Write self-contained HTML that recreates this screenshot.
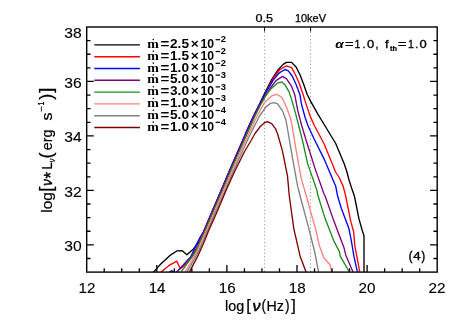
<!DOCTYPE html>
<html><head><meta charset="utf-8"><title>SED</title>
<style>html,body{margin:0;padding:0;background:#fff;}svg{display:block;will-change:transform;filter:blur(0.35px);}text{font-family:"Liberation Sans",sans-serif;fill:#000;}</style>
</head><body>
<svg width="463" height="327" viewBox="0 0 463 327">
<rect x="0" y="0" width="463" height="327" fill="#ffffff"/>
<defs><clipPath id="c"><rect x="86.70" y="27.00" width="350.50" height="245.10"/></clipPath></defs>
<line x1="264.60" y1="32.00" x2="264.60" y2="272.10" stroke="#000" stroke-width="0.85" stroke-dasharray="1.0 2.56" stroke-opacity="0.55"/>
<line x1="264.60" y1="27.00" x2="264.60" y2="31.50" stroke="#000" stroke-width="1.0"/>
<line x1="310.60" y1="32.00" x2="310.60" y2="272.10" stroke="#000" stroke-width="0.85" stroke-dasharray="1.0 2.56" stroke-opacity="0.55"/>
<line x1="310.60" y1="27.00" x2="310.60" y2="31.50" stroke="#000" stroke-width="1.0"/>
<g clip-path="url(#c)" fill="none" stroke-width="1.35" stroke-linejoin="round" stroke-linecap="butt">
<path d="M153.4,272.1 L161.0,263.8 L170.0,255.4 L177.2,250.8 L182.0,250.6 L186.9,254.7 L193.4,248.9 L199.2,241.5 L203.5,232.0 L212.0,212.0 L220.6,192.0 L229.0,172.0 L237.7,152.0 L242.6,141.0 L247.0,130.5 L253.6,116.0 L259.3,104.5 L265.0,92.5 L271.0,80.7 L277.5,70.5 L283.2,64.4 L286.4,62.4 L291.6,62.4 L296.1,67.0 L300.0,74.7 L303.9,85.1 L307.1,94.2 L310.7,101.4 L317.7,113.9 L325.1,126.0 L335.7,143.5 L344.3,164.0 L346.8,171.5 L349.0,180.0 L352.8,191.6 L354.4,196.0 L358.9,218.6 L362.1,230.0 L364.0,235.8 L364.0,272.1" stroke="#000000"/>
<path d="M161.0,272.1 L168.7,265.7 L176.8,261.2 L180.4,268.7 L186.9,263.2 L192.7,256.0 L197.2,248.3 L201.0,238.5 L203.6,232.0 L212.1,212.0 L220.7,192.0 L229.1,172.0 L237.8,152.0 L242.7,141.0 L247.1,130.5 L253.7,116.0 L259.6,104.5 L265.5,93.0 L273.4,78.0 L279.9,69.5 L286.4,65.9 L291.6,67.6 L295.5,74.7 L299.4,83.8 L303.2,94.8 L305.2,101.4 L310.2,116.4 L314.6,126.0 L323.9,143.5 L333.6,167.0 L335.2,171.5 L339.2,177.5 L343.2,186.4 L345.7,196.0 L350.7,221.1 L353.7,232.0 L354.8,245.6 L359.6,271.2 L359.8,272.1" stroke="#ff0000"/>
<path d="M169.4,272.1 L172.0,270.7 L173.9,272.1" stroke="#0000ff"/>
<path d="M176.7,272.1 L190.6,257.0 L193.2,251.6 L196.4,244.6 L200.2,237.0 L203.4,232.0 L211.9,212.0 L220.5,192.0 L228.9,172.0 L237.6,152.0 L242.5,141.0 L246.9,130.5 L253.5,116.0 L259.8,104.0 L267.0,90.3 L273.4,79.9 L279.3,72.8 L285.1,69.5 L288.3,70.8 L292.2,76.0 L296.1,84.5 L300.0,94.8 L301.4,103.9 L305.2,117.7 L308.1,126.0 L313.9,138.5 L323.9,158.6 L335.7,186.2 L337.6,196.0 L341.4,208.5 L348.9,228.6 L351.4,241.1 L353.9,256.2 L357.2,271.2 L357.4,272.1" stroke="#0000ff"/>
<path d="M176.5,272.1 L191.4,256.6 L197.9,245.5 L201.3,236.5 L203.7,232.0 L212.2,212.0 L220.9,192.0 L229.4,172.0 L238.2,152.0 L243.1,141.0 L247.6,130.5 L254.2,116.0 L260.6,104.0 L269.6,89.0 L276.0,80.6 L282.5,76.4 L286.4,78.6 L291.6,86.4 L294.8,94.8 L297.7,110.2 L301.8,126.0 L307.1,143.5 L315.1,168.6 L323.9,193.7 L325.1,196.0 L333.9,221.1 L343.9,247.4 L345.7,254.9 L352.7,271.2 L353.0,272.1" stroke="#800080"/>
<path d="M181.0,272.1 L194.0,254.0 L199.5,243.0 L204.6,232.0 L213.2,212.0 L221.8,192.0 L230.3,172.0 L239.1,152.0 L243.9,141.0 L248.6,130.5 L255.1,116.0 L260.5,105.0 L266.3,94.8 L270.8,89.0 L277.3,83.2 L281.9,81.9 L285.1,85.1 L289.0,91.6 L291.4,98.9 L295.7,113.9 L298.8,126.0 L302.6,141.0 L307.6,163.6 L316.4,188.7 L318.1,196.0 L325.1,218.6 L333.9,241.1 L339.4,251.6 L340.2,256.2 L348.9,271.2 L349.4,272.1" stroke="#228b22"/>
<path d="M185.0,272.1 L195.5,254.5 L201.0,243.0 L205.8,232.0 L214.5,212.0 L223.0,192.0 L231.6,172.0 L240.5,152.0 L245.4,141.0 L250.3,130.5 L257.2,116.0 L264.6,102.4 L271.7,95.9 L276.9,94.3 L282.1,97.8 L286.6,107.5 L290.5,117.9 L292.1,126.0 L296.3,151.1 L301.3,178.6 L306.3,196.0 L313.3,221.1 L316.2,231.0 L319.3,245.6 L324.0,258.0 L330.2,265.0 L331.5,271.2 L331.7,272.1" stroke="#ff8080"/>
<path d="M187.0,272.1 L196.7,255.0 L202.3,243.0 L207.0,232.0 L215.7,212.0 L224.5,192.0 L233.0,172.0 L242.2,152.0 L247.1,141.0 L252.2,130.5 L259.3,116.5 L265.9,106.9 L270.5,103.4 L273.7,102.6 L277.6,103.9 L282.8,111.4 L286.0,120.5 L287.0,126.0 L292.6,158.6 L297.6,186.2 L300.1,196.0 L308.2,226.1 L314.6,251.5 L318.4,271.2 L318.6,272.1" stroke="#808080"/>
<path d="M189.4,272.1 L197.9,255.9 L203.7,243.0 L208.1,232.0 L217.0,212.0 L226.2,190.0 L234.4,172.0 L244.3,152.0 L250.8,141.0 L255.0,133.5 L260.0,126.8 L264.2,122.9 L267.5,121.6 L271.7,123.7 L275.6,128.9 L277.5,133.5 L282.5,151.1 L287.5,176.1 L289.3,196.0 L293.8,228.6 L300.1,256.2 L305.8,271.2 L306.2,272.1" stroke="#800000"/>
</g>
<rect x="86.70" y="27.00" width="350.50" height="245.10" fill="none" stroke="#000" stroke-width="1.4"/>
<path d="M104.22,272.10 v-3.80 M121.75,272.10 v-3.80 M139.28,272.10 v-3.80 M156.80,272.10 v-7.10 M174.32,272.10 v-3.80 M191.85,272.10 v-3.80 M209.38,272.10 v-3.80 M226.90,272.10 v-7.10 M244.43,272.10 v-3.80 M261.95,272.10 v-3.80 M279.48,272.10 v-3.80 M297.00,272.10 v-7.10 M314.52,272.10 v-3.80 M332.05,272.10 v-3.80 M349.57,272.10 v-3.80 M367.10,272.10 v-7.10 M384.62,272.10 v-3.80 M402.15,272.10 v-3.80 M419.68,272.10 v-3.80 M86.70,258.48 h3.80 M437.20,258.48 h-3.80 M86.70,244.87 h7.10 M437.20,244.87 h-7.10 M86.70,231.25 h3.80 M437.20,231.25 h-3.80 M86.70,217.63 h3.80 M437.20,217.63 h-3.80 M86.70,204.02 h3.80 M437.20,204.02 h-3.80 M86.70,190.40 h7.10 M437.20,190.40 h-7.10 M86.70,176.78 h3.80 M437.20,176.78 h-3.80 M86.70,163.17 h3.80 M437.20,163.17 h-3.80 M86.70,149.55 h3.80 M437.20,149.55 h-3.80 M86.70,135.93 h7.10 M437.20,135.93 h-7.10 M86.70,122.32 h3.80 M437.20,122.32 h-3.80 M86.70,108.70 h3.80 M437.20,108.70 h-3.80 M86.70,95.08 h3.80 M437.20,95.08 h-3.80 M86.70,81.47 h7.10 M437.20,81.47 h-7.10 M86.70,67.85 h3.80 M437.20,67.85 h-3.80 M86.70,54.23 h3.80 M437.20,54.23 h-3.80 M86.70,40.62 h3.80 M437.20,40.62 h-3.80" stroke="#000" stroke-width="1.3" fill="none"/>
<text x="87.00" y="293.2" text-anchor="middle" font-size="15.2" stroke="#000" stroke-width="0.12">12</text>
<text x="157.10" y="293.2" text-anchor="middle" font-size="15.2" stroke="#000" stroke-width="0.12">14</text>
<text x="227.20" y="293.2" text-anchor="middle" font-size="15.2" stroke="#000" stroke-width="0.12">16</text>
<text x="297.30" y="293.2" text-anchor="middle" font-size="15.2" stroke="#000" stroke-width="0.12">18</text>
<text x="358.40" y="293.2" textLength="17.0" lengthAdjust="spacingAndGlyphs" font-size="15.2" stroke="#000" stroke-width="0.12">20</text>
<text x="428.50" y="293.2" textLength="17.0" lengthAdjust="spacingAndGlyphs" font-size="15.2" stroke="#000" stroke-width="0.12">22</text>
<text x="64.3" y="251.07" textLength="17.4" lengthAdjust="spacingAndGlyphs" font-size="15.2" stroke="#000" stroke-width="0.12">30</text>
<text x="64.3" y="196.60" textLength="17.4" lengthAdjust="spacingAndGlyphs" font-size="15.2" stroke="#000" stroke-width="0.12">32</text>
<text x="64.3" y="142.13" textLength="17.4" lengthAdjust="spacingAndGlyphs" font-size="15.2" stroke="#000" stroke-width="0.12">34</text>
<text x="64.3" y="87.67" textLength="17.4" lengthAdjust="spacingAndGlyphs" font-size="15.2" stroke="#000" stroke-width="0.12">36</text>
<text x="64.3" y="37.5" textLength="17.4" lengthAdjust="spacingAndGlyphs" font-size="15.2" stroke="#000" stroke-width="0.12">38</text>
<text x="255.4" y="22" font-size="10.4" textLength="17.6" lengthAdjust="spacingAndGlyphs" stroke="#000" stroke-width="0.25">0.5</text>
<text x="294.9" y="22" font-size="10.4" textLength="31.1" lengthAdjust="spacingAndGlyphs" stroke="#000" stroke-width="0.25">10keV</text>
<g font-size="10.6" stroke="#000" stroke-width="0.3">
<text x="335.3" y="47.9" font-style="italic" font-weight="bold" font-size="11.5" textLength="8.4" lengthAdjust="spacingAndGlyphs" stroke="none">α</text>
<text x="344.9" y="47.9" textLength="8.6" lengthAdjust="spacingAndGlyphs">=</text>
<text x="354.6" y="47.9">1</text>
<text x="362.4" y="47.9">.</text>
<text x="366.9" y="47.9" textLength="7.2" lengthAdjust="spacingAndGlyphs">0</text>
<text x="375.4" y="47.9">,</text>
<text x="385.0" y="47.9" textLength="3.6" lengthAdjust="spacingAndGlyphs">f</text>
<text x="390.0" y="50.8" font-size="6.8" font-weight="bold" textLength="7.0" lengthAdjust="spacingAndGlyphs" stroke-width="0.2">th</text>
<text x="398.0" y="47.9" textLength="8.6" lengthAdjust="spacingAndGlyphs">=</text>
<text x="408.0" y="47.9">1</text>
<text x="415.3" y="47.9">.</text>
<text x="419.6" y="47.9" textLength="7.2" lengthAdjust="spacingAndGlyphs">0</text>
</g>
<g stroke="#000" stroke-width="0.35">
<text x="408.8" y="260.3" font-size="12.8" stroke-width="0.5" textLength="3.6" lengthAdjust="spacingAndGlyphs">(</text>
<text x="413.2" y="260.1" font-size="10.2" textLength="7.4" lengthAdjust="spacingAndGlyphs">4</text>
<text x="421.6" y="260.3" font-size="12.8" stroke-width="0.5" textLength="3.6" lengthAdjust="spacingAndGlyphs">)</text>
</g>
<line x1="94.3" y1="44.90" x2="139.9" y2="44.90" stroke="#000000" stroke-width="1.4"/>
<text x="147.2" y="48.00" font-size="13" font-weight="bold" font-family="Liberation Serif" textLength="11.6" lengthAdjust="spacingAndGlyphs" style="font-family:'Liberation Serif',serif">m</text>
<text x="160.5" y="48.00" font-size="12.2" font-weight="bold" textLength="8.8" lengthAdjust="spacingAndGlyphs">=</text>
<text x="170.0" y="48.00" font-size="12.2" font-weight="bold" textLength="19.0" lengthAdjust="spacingAndGlyphs">2.5</text>
<text x="190.7" y="47.80" font-size="13" font-weight="bold" textLength="8.0" lengthAdjust="spacingAndGlyphs">×</text>
<text x="200.4" y="48.00" font-size="12.2" font-weight="bold" textLength="13.6" lengthAdjust="spacingAndGlyphs">10</text>
<circle cx="153.3" cy="39.50" r="0.8" fill="#000"/>
<line x1="215.6" y1="39.70" x2="220.1" y2="39.70" stroke="#000" stroke-width="1.2"/>
<text x="220.8" y="42.40" font-size="8.4" font-weight="bold" textLength="5.2" lengthAdjust="spacingAndGlyphs">2</text>
<line x1="94.3" y1="56.70" x2="139.9" y2="56.70" stroke="#ff0000" stroke-width="1.4"/>
<text x="147.2" y="59.80" font-size="13" font-weight="bold" font-family="Liberation Serif" textLength="11.6" lengthAdjust="spacingAndGlyphs" style="font-family:'Liberation Serif',serif">m</text>
<text x="160.5" y="59.80" font-size="12.2" font-weight="bold" textLength="8.8" lengthAdjust="spacingAndGlyphs">=</text>
<text x="170.0" y="59.80" font-size="12.2" font-weight="bold" textLength="19.0" lengthAdjust="spacingAndGlyphs">1.5</text>
<text x="190.7" y="59.60" font-size="13" font-weight="bold" textLength="8.0" lengthAdjust="spacingAndGlyphs">×</text>
<text x="200.4" y="59.80" font-size="12.2" font-weight="bold" textLength="13.6" lengthAdjust="spacingAndGlyphs">10</text>
<circle cx="153.3" cy="51.30" r="0.8" fill="#000"/>
<line x1="215.6" y1="51.50" x2="220.1" y2="51.50" stroke="#000" stroke-width="1.2"/>
<text x="220.8" y="54.20" font-size="8.4" font-weight="bold" textLength="5.2" lengthAdjust="spacingAndGlyphs">2</text>
<line x1="94.3" y1="68.50" x2="139.9" y2="68.50" stroke="#0000ff" stroke-width="1.4"/>
<text x="147.2" y="71.60" font-size="13" font-weight="bold" font-family="Liberation Serif" textLength="11.6" lengthAdjust="spacingAndGlyphs" style="font-family:'Liberation Serif',serif">m</text>
<text x="160.5" y="71.60" font-size="12.2" font-weight="bold" textLength="8.8" lengthAdjust="spacingAndGlyphs">=</text>
<text x="170.0" y="71.60" font-size="12.2" font-weight="bold" textLength="19.0" lengthAdjust="spacingAndGlyphs">1.0</text>
<text x="190.7" y="71.40" font-size="13" font-weight="bold" textLength="8.0" lengthAdjust="spacingAndGlyphs">×</text>
<text x="200.4" y="71.60" font-size="12.2" font-weight="bold" textLength="13.6" lengthAdjust="spacingAndGlyphs">10</text>
<circle cx="153.3" cy="63.10" r="0.8" fill="#000"/>
<line x1="215.6" y1="63.30" x2="220.1" y2="63.30" stroke="#000" stroke-width="1.2"/>
<text x="220.8" y="66.00" font-size="8.4" font-weight="bold" textLength="5.2" lengthAdjust="spacingAndGlyphs">2</text>
<line x1="94.3" y1="80.30" x2="139.9" y2="80.30" stroke="#800080" stroke-width="1.4"/>
<text x="147.2" y="83.40" font-size="13" font-weight="bold" font-family="Liberation Serif" textLength="11.6" lengthAdjust="spacingAndGlyphs" style="font-family:'Liberation Serif',serif">m</text>
<text x="160.5" y="83.40" font-size="12.2" font-weight="bold" textLength="8.8" lengthAdjust="spacingAndGlyphs">=</text>
<text x="170.0" y="83.40" font-size="12.2" font-weight="bold" textLength="19.0" lengthAdjust="spacingAndGlyphs">5.0</text>
<text x="190.7" y="83.20" font-size="13" font-weight="bold" textLength="8.0" lengthAdjust="spacingAndGlyphs">×</text>
<text x="200.4" y="83.40" font-size="12.2" font-weight="bold" textLength="13.6" lengthAdjust="spacingAndGlyphs">10</text>
<circle cx="153.3" cy="74.90" r="0.8" fill="#000"/>
<line x1="215.6" y1="75.10" x2="220.1" y2="75.10" stroke="#000" stroke-width="1.2"/>
<text x="220.8" y="77.80" font-size="8.4" font-weight="bold" textLength="5.2" lengthAdjust="spacingAndGlyphs">3</text>
<line x1="94.3" y1="92.10" x2="139.9" y2="92.10" stroke="#228b22" stroke-width="1.4"/>
<text x="147.2" y="95.20" font-size="13" font-weight="bold" font-family="Liberation Serif" textLength="11.6" lengthAdjust="spacingAndGlyphs" style="font-family:'Liberation Serif',serif">m</text>
<text x="160.5" y="95.20" font-size="12.2" font-weight="bold" textLength="8.8" lengthAdjust="spacingAndGlyphs">=</text>
<text x="170.0" y="95.20" font-size="12.2" font-weight="bold" textLength="19.0" lengthAdjust="spacingAndGlyphs">3.0</text>
<text x="190.7" y="95.00" font-size="13" font-weight="bold" textLength="8.0" lengthAdjust="spacingAndGlyphs">×</text>
<text x="200.4" y="95.20" font-size="12.2" font-weight="bold" textLength="13.6" lengthAdjust="spacingAndGlyphs">10</text>
<circle cx="153.3" cy="86.70" r="0.8" fill="#000"/>
<line x1="215.6" y1="86.90" x2="220.1" y2="86.90" stroke="#000" stroke-width="1.2"/>
<text x="220.8" y="89.60" font-size="8.4" font-weight="bold" textLength="5.2" lengthAdjust="spacingAndGlyphs">3</text>
<line x1="94.3" y1="103.90" x2="139.9" y2="103.90" stroke="#ff8080" stroke-width="1.4"/>
<text x="147.2" y="107.00" font-size="13" font-weight="bold" font-family="Liberation Serif" textLength="11.6" lengthAdjust="spacingAndGlyphs" style="font-family:'Liberation Serif',serif">m</text>
<text x="160.5" y="107.00" font-size="12.2" font-weight="bold" textLength="8.8" lengthAdjust="spacingAndGlyphs">=</text>
<text x="170.0" y="107.00" font-size="12.2" font-weight="bold" textLength="19.0" lengthAdjust="spacingAndGlyphs">1.0</text>
<text x="190.7" y="106.80" font-size="13" font-weight="bold" textLength="8.0" lengthAdjust="spacingAndGlyphs">×</text>
<text x="200.4" y="107.00" font-size="12.2" font-weight="bold" textLength="13.6" lengthAdjust="spacingAndGlyphs">10</text>
<circle cx="153.3" cy="98.50" r="0.8" fill="#000"/>
<line x1="215.6" y1="98.70" x2="220.1" y2="98.70" stroke="#000" stroke-width="1.2"/>
<text x="220.8" y="101.40" font-size="8.4" font-weight="bold" textLength="5.2" lengthAdjust="spacingAndGlyphs">3</text>
<line x1="94.3" y1="115.70" x2="139.9" y2="115.70" stroke="#808080" stroke-width="1.4"/>
<text x="147.2" y="118.80" font-size="13" font-weight="bold" font-family="Liberation Serif" textLength="11.6" lengthAdjust="spacingAndGlyphs" style="font-family:'Liberation Serif',serif">m</text>
<text x="160.5" y="118.80" font-size="12.2" font-weight="bold" textLength="8.8" lengthAdjust="spacingAndGlyphs">=</text>
<text x="170.0" y="118.80" font-size="12.2" font-weight="bold" textLength="19.0" lengthAdjust="spacingAndGlyphs">5.0</text>
<text x="190.7" y="118.60" font-size="13" font-weight="bold" textLength="8.0" lengthAdjust="spacingAndGlyphs">×</text>
<text x="200.4" y="118.80" font-size="12.2" font-weight="bold" textLength="13.6" lengthAdjust="spacingAndGlyphs">10</text>
<circle cx="153.3" cy="110.30" r="0.8" fill="#000"/>
<line x1="215.6" y1="110.50" x2="220.1" y2="110.50" stroke="#000" stroke-width="1.2"/>
<text x="220.8" y="113.20" font-size="8.4" font-weight="bold" textLength="5.2" lengthAdjust="spacingAndGlyphs">4</text>
<line x1="94.3" y1="127.50" x2="139.9" y2="127.50" stroke="#800000" stroke-width="1.4"/>
<text x="147.2" y="130.60" font-size="13" font-weight="bold" font-family="Liberation Serif" textLength="11.6" lengthAdjust="spacingAndGlyphs" style="font-family:'Liberation Serif',serif">m</text>
<text x="160.5" y="130.60" font-size="12.2" font-weight="bold" textLength="8.8" lengthAdjust="spacingAndGlyphs">=</text>
<text x="170.0" y="130.60" font-size="12.2" font-weight="bold" textLength="19.0" lengthAdjust="spacingAndGlyphs">1.0</text>
<text x="190.7" y="130.40" font-size="13" font-weight="bold" textLength="8.0" lengthAdjust="spacingAndGlyphs">×</text>
<text x="200.4" y="130.60" font-size="12.2" font-weight="bold" textLength="13.6" lengthAdjust="spacingAndGlyphs">10</text>
<circle cx="153.3" cy="122.10" r="0.8" fill="#000"/>
<line x1="215.6" y1="122.30" x2="220.1" y2="122.30" stroke="#000" stroke-width="1.2"/>
<text x="220.8" y="125.00" font-size="8.4" font-weight="bold" textLength="5.2" lengthAdjust="spacingAndGlyphs">4</text>
<g font-size="14.6" stroke="#000" stroke-width="0.22">
<text x="225.0" y="310.6" textLength="19.2" lengthAdjust="spacingAndGlyphs">log</text>
<text x="246.2" y="311.1" font-size="16.4" textLength="4.6" lengthAdjust="spacingAndGlyphs">[</text>
<text x="252.4" y="310.6" font-style="italic" stroke="#000" stroke-width="0.5" textLength="8.0" lengthAdjust="spacingAndGlyphs">ν</text>
<text x="261.4" y="311.1" font-size="16.4" textLength="4.6" lengthAdjust="spacingAndGlyphs">(</text>
<text x="266.6" y="310.6" textLength="17.4" lengthAdjust="spacingAndGlyphs">Hz</text>
<text x="285.0" y="311.1" font-size="16.4" textLength="4.6" lengthAdjust="spacingAndGlyphs">)</text>
<text x="291.2" y="311.1" font-size="16.4" textLength="4.6" lengthAdjust="spacingAndGlyphs">]</text>
</g>
<g transform="translate(52.2,212.8) rotate(-90)" font-size="14.6" stroke="#000" stroke-width="0.22">
<text x="0" y="0" textLength="20.6" lengthAdjust="spacingAndGlyphs">log</text>
<text x="20.9" y="-0.2" font-size="18.9" textLength="5.4" lengthAdjust="spacingAndGlyphs">[</text>
<text x="27" y="0" font-style="italic" stroke="#000" stroke-width="0.5" textLength="6.6" lengthAdjust="spacingAndGlyphs">ν</text>
<text x="34.2" y="4.9" font-size="17.5" stroke-width="0.4" textLength="6.6" lengthAdjust="spacingAndGlyphs">*</text>
<text x="43.3" y="0" textLength="7.3" lengthAdjust="spacingAndGlyphs">L</text>
<text x="50.6" y="3" font-size="8.5" font-style="italic" stroke="#000" stroke-width="0.3" textLength="3.6" lengthAdjust="spacingAndGlyphs">ν</text>
<text x="54.4" y="-0.2" font-size="18.9" textLength="6.0" lengthAdjust="spacingAndGlyphs">(</text>
<text x="62.6" y="0" textLength="20.6" lengthAdjust="spacingAndGlyphs">erg</text>
<text x="92.2" y="0" textLength="8.0" lengthAdjust="spacingAndGlyphs">s</text>
<text x="100.9" y="-8.0" font-size="8.6" stroke="#000" stroke-width="0.25" textLength="5.6" lengthAdjust="spacingAndGlyphs">−</text>
<text x="107.3" y="-8.5" font-size="8.6" stroke="#000" stroke-width="0.25" textLength="3.9" lengthAdjust="spacingAndGlyphs">1</text>
<text x="113.0" y="-0.2" font-size="18.9" textLength="6.0" lengthAdjust="spacingAndGlyphs">)</text>
<text x="119.9" y="-0.2" font-size="18.9" textLength="5.4" lengthAdjust="spacingAndGlyphs">]</text>
</g>
</svg>
</body></html>
